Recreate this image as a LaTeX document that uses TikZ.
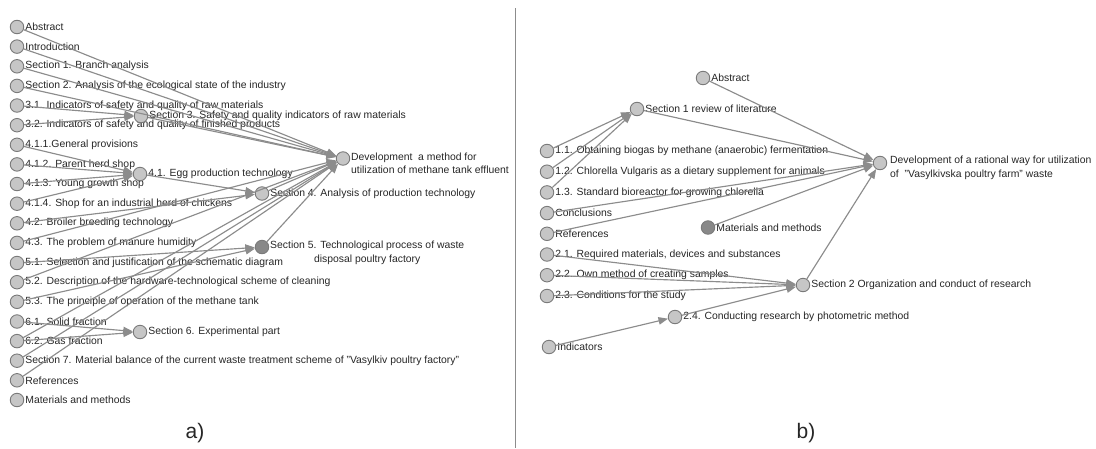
\documentclass[tikz,border=0pt]{standalone}
\usepackage{fontspec}
\setmainfont{Liberation Sans}
\usetikzlibrary{arrows.meta}
\definecolor{nodefill}{HTML}{C6C6C6}
\definecolor{nodedraw}{HTML}{7A7A7A}
\definecolor{darkfill}{HTML}{888888}
\definecolor{edgecol}{HTML}{8C8C8C}
\definecolor{txt}{HTML}{262626}
\tikzset{
  dot/.style={circle, draw=nodedraw, fill=nodefill, line width=0.9pt, minimum size=13.5pt, inner sep=0pt},
  dkdot/.style={dot, fill=darkfill},
  lbl/.style={font=\fontsize{10.4}{13.5}\selectfont, inner sep=1pt, text=txt},
  edge/.style={draw=edgecol, line width=1.15pt, -{Triangle[length=9.5pt,width=7.5pt]}},
  panel/.style={font=\fontsize{21}{24}\selectfont, text=txt},
}
\begin{document}
\begin{tikzpicture}[x=1pt,y=-1pt]
\useasboundingbox (0,0) rectangle (1096,448);
% ---------- panel a ----------
\node[dot,label={[lbl]right:Abstract}] (aAbs) at (17,27) {};
\node[dot,label={[lbl]right:Introduction}] (aIntro) at (17,46.6) {};
\node[dot,label={[lbl]right:Section 1. Branch analysis}] (aS1) at (17,66.3) {};
\node[dot,label={[lbl]right:Section 2. Analysis of the ecological state of the industry}] (aS2) at (17,85.9) {};
\node[dot,label={[lbl]right:3.1. Indicators of safety and quality of raw materials}] (a31) at (17,105.5) {};
\node[dot,label={[lbl]right:3.2. Indicators of safety and quality of finished products}] (a32) at (17,125.2) {};
\node[dot,label={[lbl]right:4.1.1.General provisions}] (a411) at (17,144.8) {};
\node[dot,label={[lbl]right:4.1.2. Parent herd shop}] (a412) at (17,164.4) {};
\node[dot,label={[lbl]right:4.1.3. Young growth shop}] (a413) at (17,184) {};
\node[dot,label={[lbl]right:4.1.4. Shop for an industrial herd of chickens}] (a414) at (17,203.7) {};
\node[dot,label={[lbl]right:4.2. Broiler breeding technology}] (a42) at (17,223.3) {};
\node[dot,label={[lbl]right:4.3. The problem of manure humidity}] (a43) at (17,242.9) {};
\node[dot,label={[lbl]right:5.1. Selection and justification of the schematic diagram}] (a51) at (17,263) {};
\node[dot,label={[lbl]right:5.2. Description of the hardware-technological scheme of cleaning}] (a52) at (17,282.2) {};
\node[dot,label={[lbl]right:5.3. The principle of operation of the methane tank}] (a53) at (17,301.8) {};
\node[dot,label={[lbl]right:6.1. Solid fraction}] (a61) at (17,321.5) {};
\node[dot,label={[lbl]right:6.2. Gas fraction}] (a62) at (17,341.1) {};
\node[dot,label={[lbl]right:Section 7. Material balance of the current waste treatment scheme of "Vasylkiv poultry factory"}] (aS7) at (17,360.7) {};
\node[dot,label={[lbl]right:References}] (aRef) at (17,380.3) {};
\node[dot,label={[lbl]right:Materials and methods}] (aMM) at (17,400) {};

\node[dot,label={[lbl]right:Section 3. Safety and quality indicators of raw materials}] (aS3) at (141,116) {};
\node[dot,label={[lbl]right:4.1. Egg production technology}] (a41) at (140,174) {};
\node[dot,label={[lbl]right:Section 4. Analysis of production technology}] (aS4) at (262,193.5) {};
\node[dkdot] (aS5) at (262,247) {};
\node[lbl,align=center,anchor=north west] (aS5t) at (269,240) {Section 5. Technological process of waste\\disposal poultry factory};
\node[dot,label={[lbl]right:Section 6. Experimental part}] (aS6) at (140,332) {};
\node[dot] (aDev) at (343,158.5) {};
\node[lbl,align=left,anchor=north west] (aDevt) at (350,151.5) {Development\ \ a method for\\utilization of methane tank effluent};

\draw[edge] (aAbs) -- (aDev);
\draw[edge] (aIntro) -- (aDev);
\draw[edge] (aS1) -- (aDev);
\draw[edge] (aS2) -- (aDev);
\draw[edge] (a31) -- (aS3);
\draw[edge] (a32) -- (aS3);
\draw[edge] (aS3) -- (aDev);
\draw[edge] (a411) -- (a41);
\draw[edge] (a412) -- (a41);
\draw[edge] (a413) -- (a41);
\draw[edge] (a414) -- (a41);
\draw[edge] (a41) -- (aS4);
\draw[edge] (a42) -- (aS4);
\draw[edge] (a43) -- (aDev);
\draw[edge] (aS4) -- (aDev);
\draw[edge] (a51) -- (aS5);
\draw[edge] (a52) -- (aDev);
\draw[edge] (a53) -- (aS5);
\draw[edge] (aS5) -- (aDev);
\draw[edge] (a61) -- (aS6);
\draw[edge] (a62) -- (aS6);
\draw[edge] (a62) -- (aDev);
\draw[edge] (aS7) -- (aDev);
\draw[edge] (aRef) -- (aDev);

\node[panel] (pa) at (195,433) {a)};
% divider
\coordinate (dTop) at (515,8);
\coordinate (dBot) at (515,448);
\draw[draw=edgecol, line width=1pt] (dTop) -- (dBot);

% ---------- panel b ----------
\node[dot,label={[lbl]right:Abstract}] (bAbs) at (703,78) {};
\node[dot,label={[lbl]right:Section 1 review of literature}] (bS1) at (637,109) {};
\node[dot,label={[lbl]right:1.1. Obtaining biogas by methane (anaerobic) fermentation}] (b11) at (547,151) {};
\node[dot,label={[lbl]right:1.2. Chlorella Vulgaris as a dietary supplement for animals}] (b12) at (547,171.7) {};
\node[dot,label={[lbl]right:1.3. Standard bioreactor for growing chlorella}] (b13) at (547,192.4) {};
\node[dot,label={[lbl]right:Conclusions}] (bCon) at (547,213.1) {};
\node[dot,label={[lbl]right:References}] (bRef) at (547,233.8) {};
\node[dkdot,label={[lbl]right:Materials and methods}] (bMM) at (708,227.5) {};
\node[dot,label={[lbl]right:2.1. Required materials, devices and substances}] (b21) at (547,254.5) {};
\node[dot,label={[lbl]right:2.2. Own method of creating samples}] (b22) at (547,275.2) {};
\node[dot,label={[lbl]right:2.3. Conditions for the study}] (b23) at (547,296) {};
\node[dot,label={[lbl]right:2.4. Conducting research by photometric method}] (b24) at (675,317) {};
\node[dot,label={[lbl]right:Indicators}] (bInd) at (549,347) {};
\node[dot,label={[lbl]right:Section 2 Organization and conduct of research}] (bS2) at (803,285) {};
\node[dot] (bDev) at (880,163) {};
\node[lbl,align=left,anchor=north west] (bDevt) at (889,155) {Development of a rational way for utilization\\of\ \ "Vasylkivska poultry farm" waste};

\draw[edge] (bAbs) -- (bDev);
\draw[edge] (bS1) -- (bDev);
\draw[edge] (b11) -- (bS1);
\draw[edge] (b12) -- (bS1);
\draw[edge] (b13) -- (bS1);
\draw[edge] (bCon) -- (bDev);
\draw[edge] (bRef) -- (bDev);
\draw[edge] (bMM) -- (bDev);
\draw[edge] (b21) -- (bS2);
\draw[edge] (b22) -- (bS2);
\draw[edge] (b23) -- (bS2);
\draw[edge] (bInd) -- (b24);
\draw[edge] (b24) -- (bS2);
\draw[edge] (bS2) -- (bDev);

\node[panel] (pb) at (806,433) {b)};
\end{tikzpicture}
\end{document}
